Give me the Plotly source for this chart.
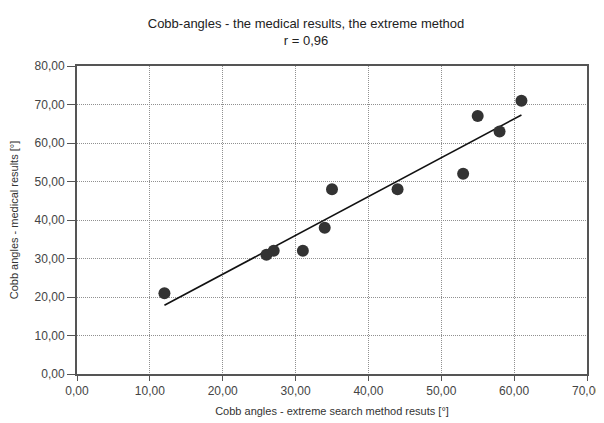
import numpy as np
import plotly.graph_objects as go

extreme_method = [12, 26, 27, 31, 34, 35, 44, 53, 55, 58, 61]
medical_results = [21, 31, 32, 32, 38, 48, 48, 52, 67, 63, 71]

x_ticks = [0, 10, 20, 30, 40, 50, 60, 70]
y_ticks = [0, 10, 20, 30, 40, 50, 60, 70, 80]

slope, intercept = np.polyfit(extreme_method, medical_results, 1)
line_x = [min(extreme_method), max(extreme_method)]
line_y = [slope * v + intercept for v in line_x]

fig = go.Figure()
fig.add_trace(go.Scatter(x=line_x, y=line_y, mode="lines",
                         line=dict(color="#111111", width=1.6), showlegend=False))
fig.add_trace(go.Scatter(x=extreme_method, y=medical_results, mode="markers",
                         marker=dict(color="#333333", size=12), showlegend=False))

font = "Liberation Sans, Arial, sans-serif"
fig.update_layout(
    width=596, height=415,
    margin=dict(l=69, r=17, t=58, b=49),
    paper_bgcolor="white", plot_bgcolor="white",
    separators=", ",
    font=dict(family=font, size=12, color="#444444"),
    title=dict(text="Cobb-angles - the medical results, the extreme method<br>r = 0,96",
               x=0.5, xanchor="center", y=0.951, yanchor="top",
               font=dict(size=13, color="#222222", family=font)),
    xaxis=dict(range=[0, 70], tickvals=x_ticks, tickformat=".2f",
               showgrid=True, gridcolor="#909090", griddash="1px,1px", gridwidth=1,
               showline=True, linecolor="#555555", linewidth=2, mirror=True,
               ticks="outside", ticklen=5, tickcolor="#555555",
               zeroline=False, ticklabelstandoff=0, automargin=False,
               title=dict(text="Cobb angles - extreme search method resuts [°]",
                          font=dict(size=11, color="#333333"), standoff=10)),
    yaxis=dict(range=[0, 80], tickvals=y_ticks, tickformat=".2f",
               showgrid=True, gridcolor="#909090", griddash="1px,1px", gridwidth=1,
               showline=True, linecolor="#555555", linewidth=2, mirror=True,
               ticks="outside", ticklen=8, tickcolor="#555555",
               zeroline=False, ticklabelstandoff=0, automargin=False,
               title=dict(text="Cobb angles - medical results [°]",
                          font=dict(size=11, color="#333333"), standoff=14)),
)

fig.write_html("out.html")
